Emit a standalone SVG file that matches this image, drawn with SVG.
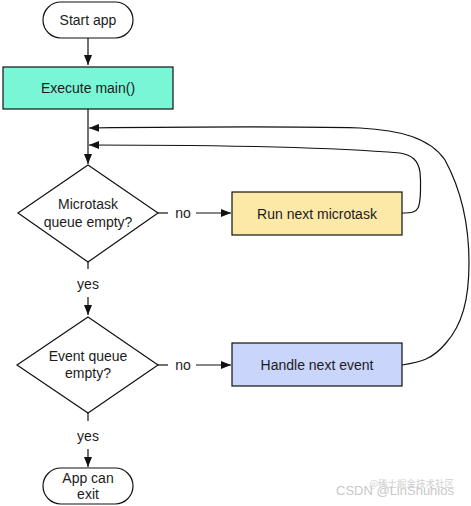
<svg xmlns="http://www.w3.org/2000/svg" width="471" height="506" viewBox="0 0 471 506">
<style>
text{font-family:"Liberation Sans",Arial,sans-serif;font-size:14px;fill:#1c1c1c;text-anchor:middle;dominant-baseline:central}
.n{stroke:#111;stroke-width:1.2}
.c{fill:none;stroke:#111;stroke-width:1.2}
.wm{font-size:13px;fill:#c8c8c8;text-anchor:start}
</style>
<defs>
<marker id="ah" viewBox="0 0 10 8" refX="10" refY="4" markerWidth="10" markerHeight="8" markerUnits="userSpaceOnUse" orient="auto">
<path d="M0,0 L10,4 L0,8 Z" fill="#111"/>
</marker>
</defs>
<rect width="471" height="506" fill="#fff"/>
<g id="connectors">
<path class="c" d="M88,38 V65" marker-end="url(#ah)"/>
<path class="c" d="M88,109 V164" marker-end="url(#ah)"/>
<path class="c" d="M88,262 V269"/>
<path class="c" d="M88,297 V315" marker-end="url(#ah)"/>
<path class="c" d="M158,213 H168"/>
<path class="c" d="M196,213 H231" marker-end="url(#ah)"/>
<path class="c" d="M158,365 H168"/>
<path class="c" d="M196,365 H231" marker-end="url(#ah)"/>
<path class="c" d="M88,413 V421"/>
<path class="c" d="M88,449 V467" marker-end="url(#ah)"/>
<path class="c" d="M402,213 C412,213 416,212 418,208 C421,202 421,182 420,172 C418,160 412,155 400,153 C330,147 200,145 89,145" marker-end="url(#ah)"/>
<path class="c" d="M402,365 C420,362 432,360 446,343 C462,325 469,300 469,263 C469,230 464,195 445,160 C430,138 400,130 360,128 C280,126 180,127 89,128" marker-end="url(#ah)"/>
</g>
<g id="start">
<rect class="n" x="43" y="2" width="90" height="36" rx="18" fill="#fff"/>
<text x="88" y="20">Start app</text>
</g>
<g id="main">
<rect class="n" x="3" y="67" width="170" height="42" fill="#79f6d6"/>
<text x="88" y="88">Execute main()</text>
</g>
<g id="microq">
<polygon class="n" points="88,165 158,213 88,262 18,213" fill="#fff"/>
<text x="88" y="204">Microtask</text>
<text x="88" y="222">queue empty?</text>
</g>
<g id="runmicro">
<rect class="n" x="232" y="192" width="170" height="43" fill="#fde9a7"/>
<text x="317" y="213.5">Run next microtask</text>
</g>
<g id="eventq">
<polygon class="n" points="88,317 158,365 88,413 17,365" fill="#fff"/>
<text x="88" y="356">Event queue</text>
<text x="88" y="373">empty?</text>
</g>
<g id="handle">
<rect class="n" x="232" y="343" width="170" height="43" fill="#c9d5fb"/>
<text x="317" y="365">Handle next event</text>
</g>
<g id="exit">
<rect class="n" x="43" y="468" width="90" height="36" rx="18" fill="#fff"/>
<text x="88" y="478">App can</text>
<text x="88" y="494">exit</text>
</g>
<g id="labels">
<text x="183" y="213">no</text>
<text x="183" y="365">no</text>
<text x="88" y="284">yes</text>
<text x="88" y="436">yes</text>
</g>
<g id="watermark">
<text class="wm" x="336" y="490">CSDN @LinShuhios</text>
<text class="wm" x="369" y="483" style="font-family:'Noto Sans CJK SC',sans-serif;font-size:9.5px;fill:#d0d0d0">@稀土掘金技术社区</text>
</g>
</svg>
